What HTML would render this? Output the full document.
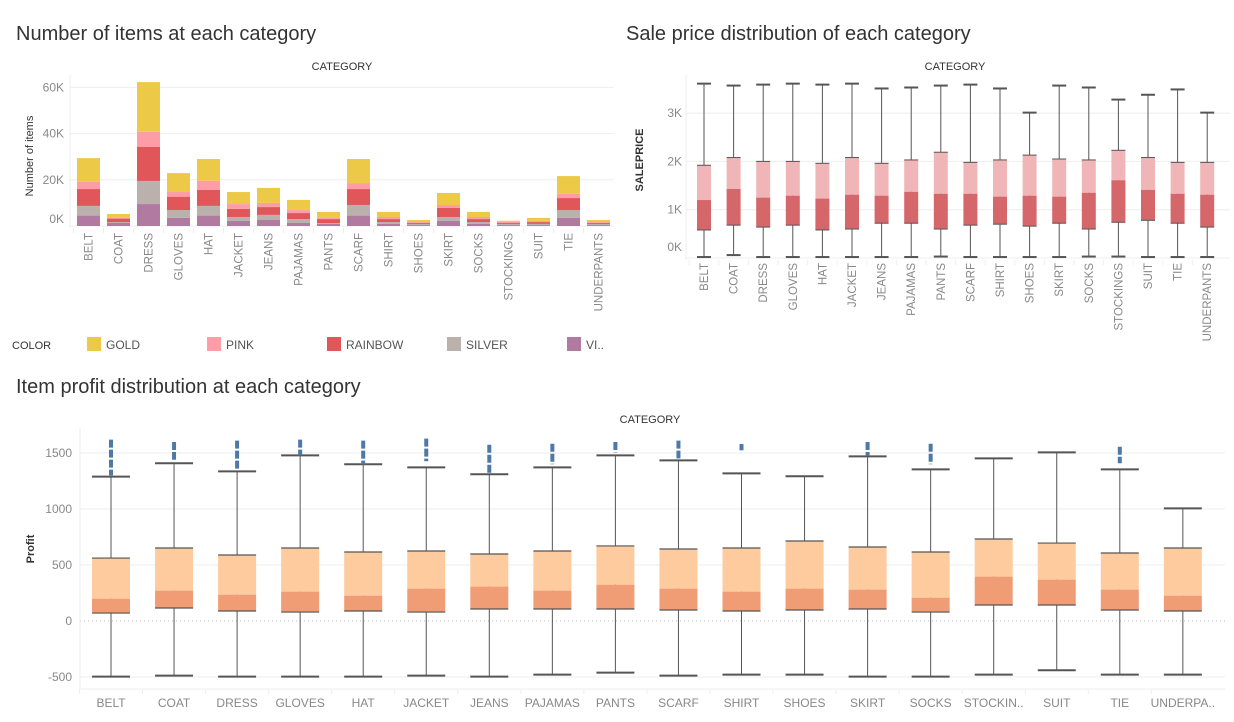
<!DOCTYPE html>
<html><head><meta charset="utf-8"><style>
body{margin:0;background:#fff;font-family:"Liberation Sans",sans-serif;}
svg{display:block}
</style></head><body>
<svg id="s" width="1234" height="722" xmlns="http://www.w3.org/2000/svg">
<text x="16" y="40" font-size="20" fill="#333">Number of items at each category</text>
<text x="626" y="40" font-size="20" fill="#333">Sale price distribution of each category</text>
<text x="16" y="393" font-size="20" fill="#333">Item profit distribution at each category</text>
<text x="342" y="70" font-size="11" fill="#333" text-anchor="middle">CATEGORY</text>
<text x="955" y="70" font-size="11" fill="#333" text-anchor="middle">CATEGORY</text>
<text x="650" y="423" font-size="11" fill="#333" text-anchor="middle">CATEGORY</text>
<text transform="translate(33,156) rotate(-90)" font-size="11" fill="#333" text-anchor="middle">Number of items</text>
<text transform="translate(643,160) rotate(-90)" font-size="11" fill="#333" font-weight="bold" text-anchor="middle">SALEPRICE</text>
<text transform="translate(34,549) rotate(-90)" font-size="11" fill="#333" font-weight="bold" text-anchor="middle">Profit</text>
<text x="12" y="349" font-size="11" fill="#333">COLOR</text>
</svg>
<script>
const NS="http://www.w3.org/2000/svg";
const svg=document.getElementById('s');
function mk(tag,attrs,parent){const e=document.createElementNS(NS,tag);for(const k in attrs)e.setAttribute(k,attrs[k]);(parent||svg).appendChild(e);return e;}

const categories=["BELT","COAT","DRESS","GLOVES","HAT","JACKET","JEANS","PAJAMAS","PANTS","SCARF","SHIRT","SHOES","SKIRT","SOCKS","STOCKINGS","SUIT","TIE","UNDERPANTS"];
const bottomLabels=["BELT","COAT","DRESS","GLOVES","HAT","JACKET","JEANS","PAJAMAS","PANTS","SCARF","SHIRT","SHOES","SKIRT","SOCKS","STOCKIN..","SUIT","TIE","UNDERPA.."];
// Items (thousands) per color
const violet=[4.5,1.3,9.5,3.5,4.5,2.2,2.6,1.3,0.9,4.5,0.9,0.4,2.2,0.9,0.4,0.4,3.5,0.4];
const silver=[4.2,0.4,10,3.4,4.2,1.7,2.2,1.7,0.4,4.6,0.8,0.5,1.7,0.8,0.5,0.5,3.4,0.5];
const rainbow=[7.3,1.5,14.7,5.8,6.9,3.5,3.4,2.6,1.7,6.9,1.3,0.4,3.9,1.3,0.4,0.8,5.2,0.4];
const pink=[3.2,0.3,6.6,2.2,4,2.1,1.8,1.3,0.5,2.6,0.9,0.4,1.3,0.9,0.5,0.5,1.8,0.4];
const gold=[10.2,1.7,21.5,8,9.4,5.2,6.5,4.4,2.6,10.4,2.2,0.9,5.2,2.2,0.5,1.3,7.7,0.9];
const itemTicks=[0,20,40,60];
// Saleprice (thousands)
const spMin=[0.02,0.06,0.02,0.02,0.02,0.02,0.02,0.02,0.03,0.02,0.02,0.02,0.02,0.03,0.03,0.02,0.02,0.02];
const spQ1=[0.58,0.68,0.64,0.68,0.58,0.6,0.72,0.72,0.6,0.68,0.7,0.66,0.72,0.6,0.74,0.78,0.72,0.64];
const spMed=[1.2,1.43,1.25,1.29,1.23,1.31,1.29,1.37,1.33,1.33,1.27,1.29,1.27,1.35,1.61,1.41,1.33,1.31];
const spQ3=[1.92,2.08,2.0,2.0,1.96,2.08,1.96,2.03,2.19,1.98,2.03,2.13,2.05,2.03,2.23,2.08,1.98,1.98];
const spMax=[3.61,3.57,3.59,3.61,3.59,3.61,3.51,3.53,3.57,3.59,3.51,3.01,3.57,3.53,3.28,3.38,3.49,3.01];
const spTicks=[0,1,2,3];
// Profit
const prMin=[-497,-488,-497,-497,-497,-488,-497,-479,-461,-488,-479,-479,-497,-497,-479,-440,-479,-479];
const prQ1=[71,116,89,80,89,80,107,107,107,98,89,98,107,80,143,143,98,89];
const prMed=[199,271,235,262,226,289,307,271,324,289,262,289,280,208,396,369,280,226];
const prQ3=[562,652,589,652,616,625,598,625,670,643,652,714,661,616,732,696,607,652];
const prMax=[1289,1408,1336,1479,1399,1372,1310,1372,1479,1434,1318,1292,1470,1354,1452,1506,1354,1006];
const outLo=[1300,1440,1351,1479,1399,1426,1310,1399,1506,1452,1524,null,1479,1399,null,null,1408,null];
const outHi=[1619,1598,1610,1619,1610,1628,1574,1583,1598,1610,1580,null,1598,1583,null,null,1556,null];
const prTicks=[-500,0,500,1000,1500];

// ---------- Chart 1: stacked bars ----------
const y1=v=>226-v*2.31;
const x1=i=>88.5+i*30;
itemTicks.forEach(t=>{
  const g=mk('line',{x1:70,x2:614,y1:y1(t),y2:y1(t),stroke:'#eee','stroke-width':1});
  
  const l=mk('text',{x:64,y:y1(t)+(t===0?-3:4),'font-size':12,fill:'#888','text-anchor':'end'});l.textContent=t+'K';
  
});
mk('line',{x1:70,x2:70,y1:75,y2:228,stroke:'#eee'});
const series=[["violet",violet,"#B07AA1"],["silver",silver,"#BAB0AC"],["rainbow",rainbow,"#E15759"],["pink",pink,"#FF9DA7"],["gold",gold,"#EDC948"]];
categories.forEach((c,i)=>{
  let base=0;
  series.forEach(([nm,arr,col])=>{
    const v=arr[i];
    const r=mk('rect',{x:x1(i)-11.5,width:23,y:y1(base+v),height:y1(base)-y1(base+v),fill:col});
    
    
    base+=v;
  });
  const t=mk('text',{transform:`translate(${x1(i)+4},233) rotate(-90)`,'font-size':11.5,fill:'#888','text-anchor':'end'});
  t.textContent=c;
  
  mk('line',{x1:x1(i)-15,x2:x1(i)-15,y1:228,y2:233,stroke:'#eee'});
});
// legend
const legItems=[["GOLD","#EDC948"],["PINK","#FF9DA7"],["RAINBOW","#E15759"],["SILVER","#BAB0AC"],["VI..","#B07AA1"]];
legItems.forEach(([n,c],i)=>{
  const x=87+i*120;
  const r=mk('rect',{x:x,y:337,width:14,height:14,fill:c});
  
  const t=mk('text',{x:x+19,y:349,'font-size':12,fill:'#555'});t.textContent=n;
  
});

// ---------- Chart 2: saleprice boxes ----------
const y2=v=>258-v*48.3;
const x2=i=>704+i*29.6;
spTicks.forEach(t=>{
  const g=mk('line',{x1:686,x2:1230,y1:y2(t),y2:y2(t),stroke:'#eee'});
  
  const l=mk('text',{x:682,y:y2(t)-(t===0?7:-4),'font-size':12,fill:'#888','text-anchor':'end'});l.textContent=t+'K';
  
});
mk('line',{x1:686,x2:686,y1:75,y2:260,stroke:'#eee'});
categories.forEach((c,i)=>{
  const x=x2(i),w=14;
  const g=mk('g',{});
  
  mk('line',{x1:x,x2:x,y1:y2(spMax[i]),y2:y2(spMin[i]),stroke:'#555','stroke-width':1},g);
  mk('rect',{x:x-w/2,width:w,y:y2(spQ3[i]),height:y2(spMed[i])-y2(spQ3[i]),fill:'#F0B6B7'},g);
  mk('rect',{x:x-w/2,width:w,y:y2(spMed[i]),height:y2(spQ1[i])-y2(spMed[i]),fill:'#D5676B'},g);
  [spMax[i],spMin[i],spQ3[i],spQ1[i]].forEach((v,k)=>mk('line',{x1:x-w/2,x2:x+w/2,y1:y2(v),y2:y2(v),stroke:'#555','stroke-width':k<2?2:1},g));
  const t=mk('text',{transform:`translate(${x+4},263) rotate(-90)`,'font-size':11.5,fill:'#888','text-anchor':'end'});
  t.textContent=c;
  
  mk('line',{x1:x-14.8,x2:x-14.8,y1:260,y2:265,stroke:'#eee'});
});

// ---------- Chart 3: profit boxes ----------
const y3=v=>621-v*0.112;
const x3=i=>111+i*63.05;
prTicks.forEach(t=>{
  const g=mk('line',{x1:80,x2:1225,y1:y3(t),y2:y3(t),stroke:t===0?'#bbb':'#eee','stroke-dasharray':t===0?'1,3':'none'});
  
  const l=mk('text',{x:72,y:y3(t)+4,'font-size':12,fill:'#888','text-anchor':'end'});l.textContent=t;
  
});
mk('line',{x1:80,x2:80,y1:428,y2:690,stroke:'#eee'});
mk('line',{x1:80,x2:1225,y1:689,y2:689,stroke:'#eee'});
bottomLabels.forEach((c,i)=>{
  const x=x3(i),w=38;
  const g=mk('g',{});
  
  mk('line',{x1:x,x2:x,y1:y3(prMax[i]),y2:y3(prMin[i]),stroke:'#555','stroke-width':1},g);
  mk('rect',{x:x-w/2,width:w,y:y3(prQ3[i]),height:y3(prMed[i])-y3(prQ3[i]),fill:'#FDCB9E'},g);
  mk('rect',{x:x-w/2,width:w,y:y3(prMed[i]),height:y3(prQ1[i])-y3(prMed[i]),fill:'#F09C74'},g);
  [prMax[i],prMin[i],prQ3[i],prQ1[i]].forEach((v,k)=>mk('line',{x1:x-w/2,x2:x+w/2,y1:y3(v),y2:y3(v),stroke:'#555','stroke-width':k<2?2:1.2},g));
  if(outLo[i]!==null){
    const o=mk('line',{x1:x,x2:x,y1:y3(outHi[i]),y2:y3(outLo[i]),stroke:'#4E79A7','stroke-width':4,'stroke-dasharray':'8,2'});
    
  }
  const t=mk('text',{x:x,y:707,'font-size':12,fill:'#888','text-anchor':'middle'});
  t.textContent=c;
  
  mk('line',{x1:x-31.5,x2:x-31.5,y1:689,y2:694,stroke:'#eee'});
});
</script>
</body></html>
